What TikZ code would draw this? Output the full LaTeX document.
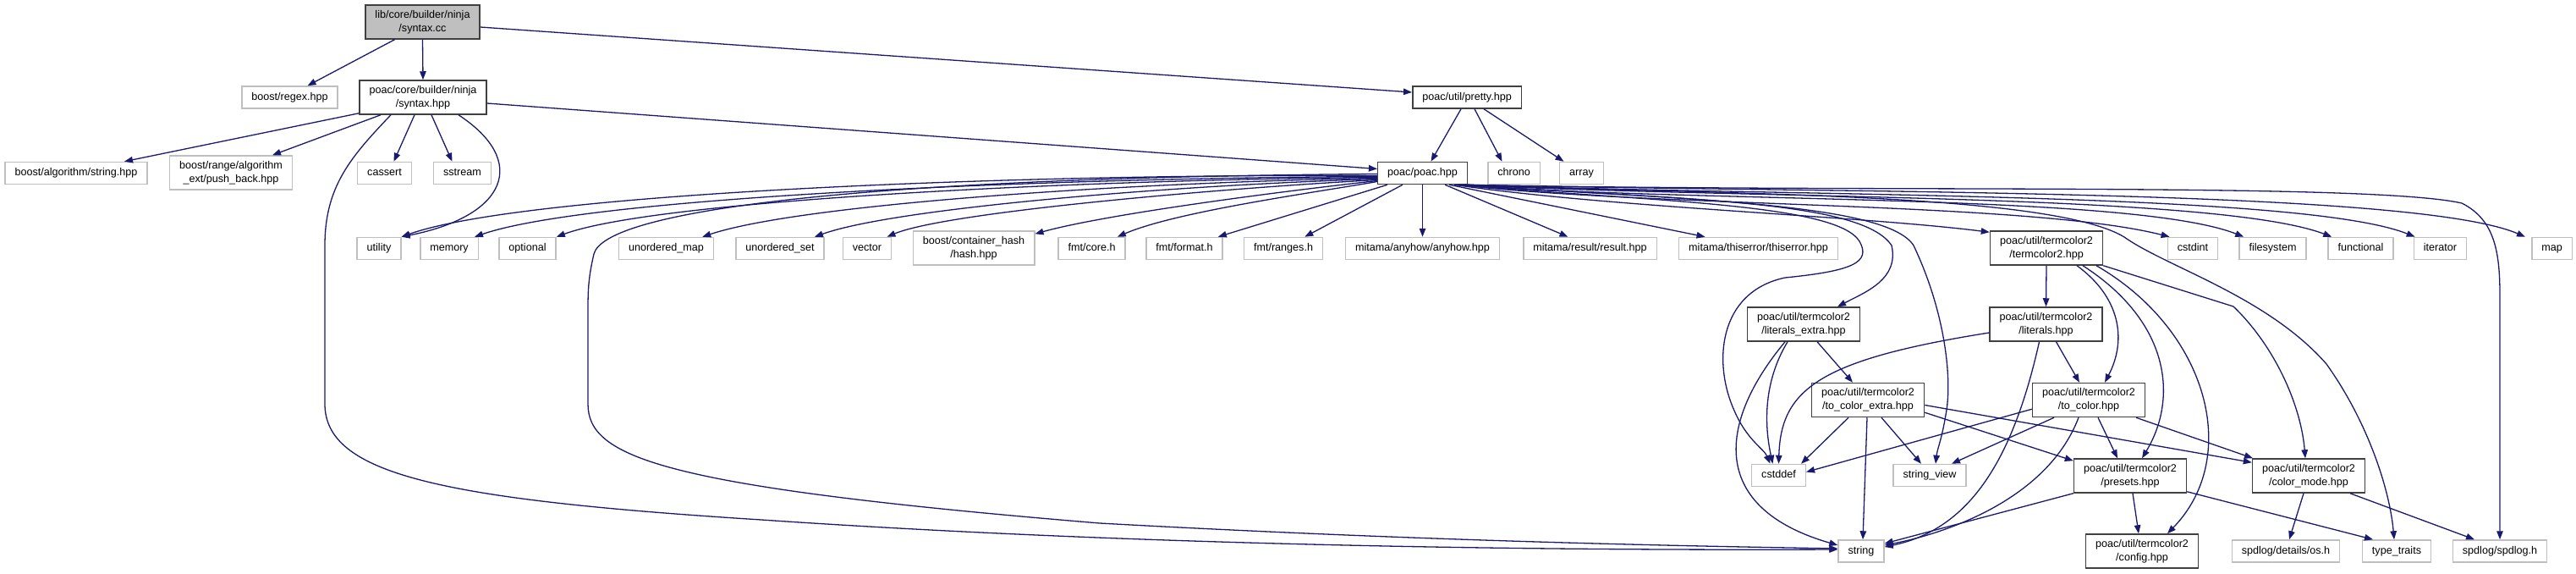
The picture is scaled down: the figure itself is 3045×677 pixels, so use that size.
\documentclass[tikz,border=0pt]{standalone}
\usepackage{fontspec}
\setmainfont{Liberation Sans}
\usetikzlibrary{arrows.meta}
\definecolor{edgec}{HTML}{191970}
\definecolor{extc}{HTML}{BFBFBF}
\definecolor{docc}{HTML}{404040}
\tikzset{
  base/.style={rectangle, inner xsep=11.5pt, inner ysep=0pt, font=\fontsize{12.6}{16}\selectfont, line width=1.5pt, align=center},
  ext/.style={base, draw=extc, minimum height=26pt, text height=9.2pt, text depth=2.6pt},
  doc/.style={base, draw=docc, minimum height=26pt, text height=9.2pt, text depth=2.6pt},
  ext2/.style={base, draw=extc, minimum height=40pt},
  doc2/.style={base, draw=docc, minimum height=40pt},
  root/.style={doc2, fill=extc},
  E/.style={draw=edgec, line width=1.3pt, -{Triangle[length=10pt,width=7.5pt]}}
}
\begin{document}
\begin{tikzpicture}[x=1pt,y=-1pt]
\fill[white] (0,0) rectangle (3045,677);
\useasboundingbox (0,0) rectangle (3045,677);
% nodes
\node[root] (cc) at (499.5,26) {lib/core/builder/ninja\\/syntax.cc};
\node[ext] (regex) at (342.5,115) {boost/regex.hpp};
\node[doc2] (nsyntax) at (500,115) {poac/core/builder/ninja\\/syntax.hpp};
\node[doc] (pretty) at (1734,115) {poac/util/pretty.hpp};
\node[ext] (bstring) at (90,204.5) {boost/algorithm/string.hpp};
\node[ext2] (pushback) at (273,204) {boost/range/algorithm\\\_ext/push\_back.hpp};
\node[ext] (cassert) at (454.5,204.5) {cassert};
\node[ext] (sstream) at (546.5,204.5) {sstream};
\node[doc] (poac) at (1681.5,204.5) {poac/poac.hpp};
\node[ext] (chrono) at (1789.5,204.5) {chrono};
\node[ext] (array) at (1869.5,204.5) {array};
% row 3
\node[ext] (utility) at (448,293.5) {utility};
\node[ext] (memory) at (531,293.5) {memory};
\node[ext] (optional) at (623.5,293.5) {optional};
\node[ext] (umap) at (787.5,293.5) {unordered\_map};
\node[ext] (uset) at (922,293.5) {unordered\_set};
\node[ext] (vector) at (1025,293.5) {vector};
\node[ext2] (chash) at (1151,293) {boost/container\_hash\\/hash.hpp};
\node[ext] (fcore) at (1290.5,293.5) {fmt/core.h};
\node[ext] (fformat) at (1400,293.5) {fmt/format.h};
\node[ext] (franges) at (1517,293.5) {fmt/ranges.h};
\node[ext] (anyhow) at (1681.5,293.5) {mitama/anyhow/anyhow.hpp};
\node[ext] (result) at (1879.5,293.5) {mitama/result/result.hpp};
\node[ext] (thiserror) at (2078.5,293.5) {mitama/thiserror/thiserror.hpp};
\node[doc2] (termcolor2) at (2419,293) {poac/util/termcolor2\\/termcolor2.hpp};
\node[ext] (cstdint) at (2592,293.5) {cstdint};
\node[ext] (filesystem) at (2686.5,293.5) {filesystem};
\node[ext] (functional) at (2790.5,293.5) {functional};
\node[ext] (iterator) at (2884.5,293.5) {iterator};
\node[ext] (map) at (3016.5,293.5) {map};
% row 4
\node[doc2] (lextra) at (2132,383) {poac/util/termcolor2\\/literals\_extra.hpp};
\node[doc2] (literals) at (2418.5,383) {poac/util/termcolor2\\/literals.hpp};
% row 5
\node[doc2] (tcextra) at (2208,472.5) {poac/util/termcolor2\\/to\_color\_extra.hpp};
\node[doc2] (tocolor) at (2469,472.5) {poac/util/termcolor2\\/to\_color.hpp};
% row 6
\node[ext] (cstddef) at (2102.5,561.5) {cstddef};
\node[ext] (sview) at (2281,561.5) {string\_view};
\node[doc2] (presets) at (2518,562) {poac/util/termcolor2\\/presets.hpp};
\node[doc2] (cmode) at (2729,562) {poac/util/termcolor2\\/color\_mode.hpp};
% row 7
\node[ext] (string) at (2200,651) {string};
\node[doc2] (config) at (2532,651) {poac/util/termcolor2\\/config.hpp};
\node[ext] (osh) at (2702,651) {spdlog/details/os.h};
\node[ext] (ttraits) at (2833,651) {type\_traits};
\node[ext] (spdlog) at (2955,651) {spdlog/spdlog.h};

% edges from root
\draw[E] ([xshift=-33pt]cc.south) -- ([xshift=21pt]regex.north);
\draw[E] (cc.south) -- (nsyntax.north);
\draw[E] ([yshift=-6pt]cc.east) -- ([yshift=6pt]pretty.west);

% edges from ninja/syntax.hpp
\draw[E] ([yshift=2pt]nsyntax.south west) -- ([xshift=57pt]bstring.north);
\draw[E] ([xshift=-50pt]nsyntax.south) -- ([xshift=49pt]pushback.north);
\draw[E] ([xshift=-10pt]nsyntax.south) -- ([xshift=11pt]cassert.north);
\draw[E] ([xshift=10pt]nsyntax.south) -- ([xshift=-12pt]sstream.north);
\draw[E] ([xshift=42pt]nsyntax.south) .. controls (625,190) and (600,255) .. (utility.north east);
\draw[E] ([yshift=-7pt]nsyntax.east) -- ([yshift=5pt]poac.west);
\draw[E] ([xshift=-38pt]nsyntax.south) .. controls (415,185) and (384,220) .. (384,290) -- (384,477) .. controls (384,560) and (520,590) .. (900,614) .. controls (1400,648) and (1900,650) .. ([yshift=2pt]string.west);

% edges from pretty.hpp
\draw[E] ([xshift=-7pt]pretty.south) -- ([xshift=10pt]poac.north);
\draw[E] ([xshift=9pt]pretty.south) -- ([xshift=-14pt]chrono.north);
\draw[E] ([xshift=20pt]pretty.south) -- ([xshift=-21pt]array.north);

% edges from poac.hpp, left
\draw[E] ([yshift=-3pt]poac.west) .. controls (1200,205) and (620,228) .. (utility.north east);
\draw[E] ([yshift=-4pt]poac.west) .. controls (1250,210) and (700,232) .. ([xshift=-5pt]memory.north east);
\draw[E] ([yshift=-5pt]poac.west) .. controls (1300,212) and (780,235) .. (optional.north east);
\draw[E] ([yshift=-6pt]poac.west) .. controls (1350,215) and (950,240) .. ([xshift=-14pt]umap.north east);
\draw[E] ([yshift=-7pt]poac.west) .. controls (1400,218) and (1060,245) .. ([xshift=-12pt]uset.north east);
\draw[E] ([yshift=-8pt]poac.west) .. controls (1450,222) and (1120,250) .. ([xshift=-6pt]vector.north east);
\draw[E] ([yshift=-9pt]poac.west) .. controls (1480,230) and (1300,255) .. ([yshift=-4pt]chash.north east);
\draw[E] ([yshift=-10pt]poac.west) .. controls (1550,228) and (1390,250) .. ([xshift=-10pt]fcore.north east);
\draw[E] ([xshift=12pt]poac.south west) -- ([xshift=-6pt]fformat.north east);
\draw[E] ([xshift=30pt]poac.south west) -- ([xshift=-22pt]franges.north east);
\draw[E] (poac.south) -- (anyhow.north);
\draw[E] ([yshift=-1pt]poac.west) .. controls (1000,210) and (715,250) .. (702,300) .. controls (695,330) and (695,345) .. (695,370) -- (695,477) .. controls (695,540) and (780,575) .. (1300,618) .. controls (1700,640) and (2000,645) .. ([yshift=3pt]string.west);

% edges from poac.hpp, right
\draw[E] ([xshift=-27pt]poac.south east) -- ([xshift=-26pt]result.north);
\draw[E] ([xshift=-22pt]poac.south east) -- ([xshift=-63pt]thiserror.north);
\draw[E] ([xshift=-16pt]poac.south east) .. controls (1900,245) and (2200,255) .. ([yshift=-2pt]termcolor2.north west);
\draw[E] ([xshift=-12pt]poac.south east) .. controls (1950,245) and (2400,238) .. ([xshift=3pt]cstdint.north west);
\draw[E] ([xshift=-10pt]poac.south east) .. controls (2000,240) and (2520,228) .. ([xshift=6pt]filesystem.north west);
\draw[E] ([xshift=-8pt]poac.south east) .. controls (2050,235) and (2620,228) .. ([xshift=5pt]functional.north west);
\draw[E] ([xshift=-6pt]poac.south east) .. controls (2100,232) and (2720,226) .. ([xshift=2pt]iterator.north west);
\draw[E] ([xshift=-4pt]poac.south east) .. controls (2150,228) and (2850,222) .. ([xshift=-7pt]map.north west);
\draw[E] ([xshift=-14pt]poac.south east) .. controls (1950,238) and (2170,240) .. (2198,285) .. controls (2212,310) and (2190,320) .. (2110,328) .. controls (2030,345) and (2025,430) .. (2050,485) .. controls (2065,520) and (2085,530) .. ([xshift=-10pt]cstddef.north);
\draw[E] ([xshift=-12pt]poac.south east) .. controls (1980,236) and (2200,235) .. (2236,290) .. controls (2245,330) and (2205,345) .. ([xshift=40pt]lextra.north);
\draw[E] ([xshift=-10pt]poac.south east) .. controls (2000,236) and (2230,240) .. (2262,290) .. controls (2300,370) and (2308,450) .. (2300,490) .. controls (2295,520) and (2290,530) .. ([xshift=7pt]sview.north);
\draw[E] ([xshift=-2pt]poac.south east) .. controls (2000,230) and (2420,225) .. (2511,280) .. controls (2560,315) and (2680,350) .. (2750,430) .. controls (2800,500) and (2825,580) .. ([xshift=-3pt]ttraits.north);
\draw[E] (poac.south east) .. controls (2200,228) and (2800,215) .. (2910,240) .. controls (2950,260) and (2955,300) .. (2955,350) -- (spdlog.north);

% termcolor2.hpp
\draw[E] (termcolor2.south) -- (literals.north);
\draw[E] ([xshift=36pt]termcolor2.south) .. controls (2505,350) and (2515,400) .. ([xshift=19pt]tocolor.north);
\draw[E] ([xshift=43pt]termcolor2.south) .. controls (2565,380) and (2575,470) .. ([xshift=14pt]presets.north);
\draw[E] ([xshift=59pt]termcolor2.south) .. controls (2610,390) and (2650,540) .. ([xshift=30pt]config.north);
\draw[E] (termcolor2.south east) -- (2640,362) .. controls (2690,410) and (2720,480) .. ([xshift=-4pt]cmode.north);

% literals.hpp
\draw[E] ([xshift=12pt]literals.south) -- ([xshift=-11pt]tocolor.north);
\draw[E] ([xshift=-8pt]literals.south) .. controls (2380,540) and (2330,625) .. ([yshift=5pt]string.east);
\draw[E] ([yshift=-10pt]literals.west) .. controls (2150,425) and (2105,460) .. (cstddef.north);

% literals_extra.hpp
\draw[E] ([xshift=16pt]lextra.south) -- ([xshift=-18pt]tcextra.north);
\draw[E] ([xshift=-19pt]lextra.south) .. controls (2085,450) and (2085,500) .. ([xshift=-7pt]cstddef.north);
\draw[E] ([xshift=-22pt]lextra.south) .. controls (2030,500) and (2020,600) .. ([yshift=7pt]string.west);

% to_color_extra.hpp
\draw[E] ([xshift=-23pt]tcextra.south) -- ([xshift=-6pt]cstddef.north east);
\draw[E] ([xshift=-1pt]tcextra.south) -- ([xshift=2pt]string.north);
\draw[E] ([xshift=16pt]tcextra.south) -- ([xshift=-10pt]sview.north);
\draw[E] ([yshift=6pt]tcextra.south east) -- ([yshift=-3pt]presets.north west);
\draw[E] ([yshift=-6pt]tcextra.east) -- ([yshift=-5pt]cmode.north west);

% to_color.hpp
\draw[E] ([yshift=10pt]tocolor.south west) -- ([yshift=4pt]cstddef.east);
\draw[E] ([xshift=-41pt]tocolor.south) -- ([xshift=26pt]sview.north);
\draw[E] ([xshift=-12pt]tocolor.south) .. controls (2420,590) and (2300,630) .. ([yshift=7pt]string.east);
\draw[E] ([xshift=11pt]tocolor.south) -- ([xshift=-15pt]presets.north);
\draw[E] ([xshift=56pt]tocolor.south) -- ([xshift=-66pt]cmode.north);

% presets.hpp
\draw[E] (presets.south west) -- ([yshift=9pt]string.east);
\draw[E] ([xshift=3pt]presets.south) -- ([xshift=-4pt]config.north);
\draw[E] ([yshift=2pt]presets.south east) -- ([xshift=-28pt]ttraits.north);

% color_mode.hpp
\draw[E] ([xshift=-6pt]cmode.south) -- ([xshift=4pt]osh.north);
\draw[E] ([xshift=49pt]cmode.south) -- ([xshift=-30pt]spdlog.north);
\end{tikzpicture}
\end{document}
